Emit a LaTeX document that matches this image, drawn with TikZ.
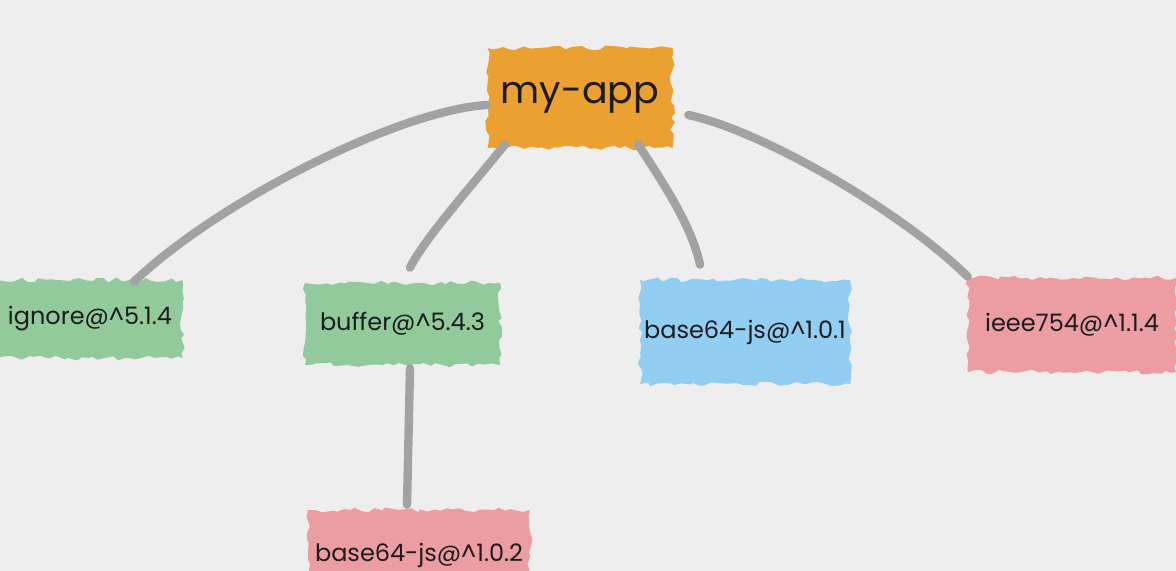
\documentclass[tikz,border=0pt]{standalone}
\usepackage{fontspec}
\setmainfont{Poppins}
\usetikzlibrary{decorations.pathmorphing}
\definecolor{paper}{HTML}{EEEEEE}
\definecolor{ink}{HTML}{1C1C1C}
\definecolor{linkgray}{HTML}{A2A2A2}
\definecolor{apporange}{HTML}{EBA032}
\definecolor{leafgreen}{HTML}{93CA9C}
\definecolor{leafblue}{HTML}{92CDF2}
\definecolor{leafpink}{HTML}{EC9DA2}
\tikzset{pkg/.style = {fill=#1, decorate,
                       decoration={random steps, segment length=3pt, amplitude=1.2pt},
                       text=ink, font=\fontsize{12}{14}\selectfont, inner sep=0}}
\tikzset{link/.style = {draw=linkgray, line width=4.2pt, line cap=round}}

\begin{document}
\pgfmathsetseed{7}
\begin{tikzpicture}[x=0.5pt, y=-0.5pt]
      \clip (0, 0) rectangle (1176, 571);
      \fill [paper] (0, 0) rectangle (1176, 571);
      \node [pkg=apporange, minimum width=92.5pt, minimum height=50pt,
             font=\fontsize{19}{23}\selectfont] (app) at (580, 98) {my-app};
      \node [pkg=leafgreen, minimum width=92.5pt, minimum height=39pt] (ignore) at (90, 319) {ignore@\textasciicircum 5.1.4};
      \node [pkg=leafgreen, minimum width=97.5pt, minimum height=41pt] (buffer) at (402.5, 324) {buffer@\textasciicircum 5.4.3};
      \node [pkg=leafblue, minimum width=105pt, minimum height=52pt] (basea) at (745, 332) {base64-js@\textasciicircum 1.0.1};
      \node [pkg=leafpink, minimum width=104pt, minimum height=47pt] (ieee) at (1072, 325) {ieee754@\textasciicircum 1.1.4};
      \node [pkg=leafpink, minimum width=111pt, minimum height=45pt] (baseb) at (419, 555) {base64-js@\textasciicircum 1.0.2};
      \draw [link] ([yshift=-3.5pt]app.west) .. controls (400, 110) and (220, 200) .. ([xshift=22pt, yshift=-1pt]ignore.north);
      \draw [link] ([xshift=-37.5pt, yshift=2pt]app.south) .. controls (470, 188) and (425, 238) .. ([xshift=3.75pt, yshift=7.5pt]buffer.north);
      \draw [link] ([xshift=29pt, yshift=2pt]app.south) .. controls (668, 190) and (692, 228) .. ([xshift=-22.5pt, yshift=7.5pt]basea.north);
      \draw [link] ([xshift=7.75pt, yshift=-8.5pt]app.east) .. controls (760, 130) and (900, 210) .. ([yshift=0.5pt]ieee.north west);
      \draw [link] ([xshift=3.75pt, yshift=-1.5pt]buffer.south) -- ([xshift=-6pt, yshift=2.5pt]baseb.north);
    \end{tikzpicture}
\end{document}
